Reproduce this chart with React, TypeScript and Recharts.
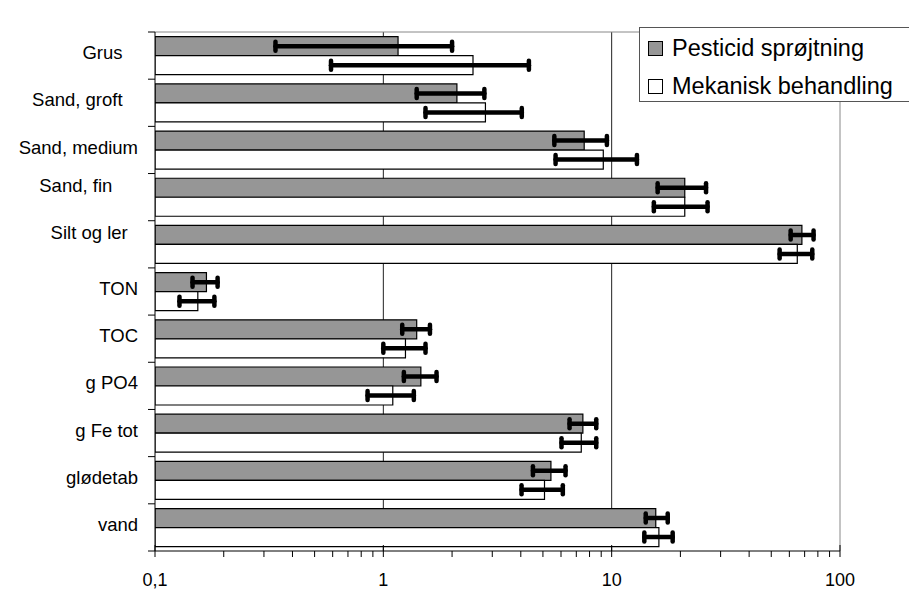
import React from "react";
import {
  BarChart,
  Bar,
  XAxis,
  YAxis,
  CartesianGrid,
  ErrorBar,
  Legend,
} from "recharts";

// categories (trailing spaces / line breaks are part of the original labels)
const categories = [
  "Grus   ",
  "Sand, groft   ",
  "Sand, medium",
  "Sand, fin     \n",
  "Silt og ler  \n",
  "TON",
  "TOC",
  "g PO4",
  "g Fe tot",
  "glødetab",
  "vand",
];

const seriesNames = ["Pesticid sprøjtning", "Mekanisk behandling"];

const pesticid = [1.16, 2.1, 7.58, 20.9, 68.1, 0.168, 1.4, 1.46, 7.48, 5.42, 15.6];
const pesticidLow = [0.337, 1.4, 5.61, 15.9, 60.8, 0.146, 1.21, 1.23, 6.54, 4.52, 14.1];
const pesticidHigh = [2.0, 2.77, 9.53, 25.9, 76.6, 0.188, 1.6, 1.71, 8.56, 6.28, 17.6];

const mekanisk = [2.47, 2.8, 9.19, 20.9, 65.0, 0.154, 1.25, 1.1, 7.36, 5.08, 16.1];
const mekaniskLow = [0.59, 1.53, 5.68, 15.3, 54.4, 0.128, 1.0, 0.853, 6.03, 4.03, 13.9];
const mekaniskHigh = [4.34, 4.04, 12.9, 26.3, 75.6, 0.182, 1.53, 1.36, 8.56, 6.11, 18.5];

const majorTicks = [0.1, 1, 10, 100];
const majorLabels = ["0,1", "1", "10", "100"];
const minorTicks = [
  0.2, 0.3, 0.4, 0.5, 0.6, 0.7, 0.8, 0.9,
  2, 3, 4, 5, 6, 7, 8, 9,
  20, 30, 40, 50, 60, 70, 80, 90,
];

const data = categories.map((name, i) => ({
  name,
  pest: pesticid[i],
  pestErr: [pesticid[i] - pesticidLow[i], pesticidHigh[i] - pesticid[i]],
  mek: mekanisk[i],
  mekErr: [mekanisk[i] - mekaniskLow[i], mekaniskHigh[i] - mekanisk[i]],
}));

const FONT = "'Liberation Sans', Arial, sans-serif";
const PLOT_TOP = 32;
const PLOT_HEIGHT = 519;
const BAND = PLOT_HEIGHT / categories.length;
const LINE_H = 17;

const XTick = ({ x, y, payload }: any) => {
  const i = majorTicks.indexOf(payload.value);
  if (i < 0) {
    return <line x1={x} x2={x} y1={y} y2={y + 6} stroke="#000" />;
  }
  return (
    <g>
      <line x1={x} x2={x} y1={y - 6} y2={y + 6} stroke="#000" />
      <text
        x={x}
        y={y + 35}
        textAnchor="middle"
        fontSize={18}
        fontFamily={FONT}
        fill="#000"
      >
        {majorLabels[i]}
      </text>
    </g>
  );
};

const YTick = ({ x, y, payload, index }: any) => {
  const lines = String(payload.value).split("\n");
  const start = -((lines.length - 1) * LINE_H) / 2;
  return (
    <g>
      <line x1={x - 7} x2={x} y1={y - BAND / 2} y2={y - BAND / 2} stroke="#000" />
      {index === categories.length - 1 && (
        <line x1={x - 7} x2={x} y1={y + BAND / 2} y2={y + BAND / 2} stroke="#000" />
      )}
      <text
        x={x - 17}
        y={y + 3.6}
        textAnchor="end"
        fontSize={18.5}
        fontFamily={FONT}
        fill="#000"
        xmlSpace="preserve"
        style={{ whiteSpace: "pre" }}
      >
        {lines.map((l, k) => (
          <tspan key={k} x={x - 17} dy={k === 0 ? start : LINE_H}>
            {l}
          </tspan>
        ))}
      </text>
    </g>
  );
};

const LegendBox = () => (
  <div
    style={{
      width: 272,
      height: 75,
      boxSizing: "border-box",
      border: "1px solid #555",
      background: "#fff",
      paddingTop: 1,
      paddingLeft: 8,
      fontFamily: FONT,
      fontSize: 23.5,
      color: "#000",
    }}
  >
    {seriesNames.map((n, i) => (
      <div
        key={n}
        style={{ height: 38, display: "flex", alignItems: "center", whiteSpace: "nowrap" }}
      >
        <span
          style={{
            display: "inline-block",
            width: 13,
            height: 13,
            border: "1px solid #000",
            background: i === 0 ? "#969696" : "#fff",
            marginRight: 9,
          }}
        />
        {n}
      </div>
    ))}
  </div>
);

export default function App() {
  return (
    <div style={{ position: "absolute", left: 0, top: 0, background: "#fff" }}>
      <BarChart
        width={909}
        height={589}
        data={data}
        layout="vertical"
        margin={{ top: PLOT_TOP, right: 69, bottom: 0, left: 0 }}
        barCategoryGap="10%"
        barGap={0}
      >
        <CartesianGrid
          horizontal={false}
          verticalValues={[1, 10]}
          stroke="#222"
        />
        <CartesianGrid
          verticalValues={[100]}
          horizontalCoordinatesGenerator={({ offset }: any) => [offset.top]}
          stroke="#888"
        />
        <XAxis
          type="number"
          scale="log"
          domain={[0.1, 100]}
          allowDataOverflow
          ticks={[...majorTicks, ...minorTicks]}
          interval={0}
          height={38}
          tickLine={false}
          tickSize={0}
          tickMargin={0}
          tick={(p: any) => <XTick {...p} />}
          axisLine={{ stroke: "#000" }}
        />
        <YAxis
          type="category"
          dataKey="name"
          width={155}
          interval={0}
          tickLine={false}
          tickSize={0}
          tickMargin={0}
          tick={(p: any) => <YTick {...p} />}
          axisLine={{ stroke: "#000" }}
        />
        <Bar
          dataKey="pest"
          name={seriesNames[0]}
          fill="#969696"
          stroke="#000"
          strokeWidth={1.2}
          isAnimationActive={false}
        >
          <ErrorBar
            dataKey="pestErr"
            direction="x"
            width={4.5}
            stroke="#000"
            strokeWidth={4.5}
            strokeLinecap="round"
          />
        </Bar>
        <Bar
          dataKey="mek"
          name={seriesNames[1]}
          fill="#fff"
          stroke="#000"
          strokeWidth={1.2}
          isAnimationActive={false}
        >
          <ErrorBar
            dataKey="mekErr"
            direction="x"
            width={4.5}
            stroke="#000"
            strokeWidth={4.5}
            strokeLinecap="round"
          />
        </Bar>
        <Legend
          layout="vertical"
          align="center"
          verticalAlign="middle"
          content={() => <LegendBox />}
          wrapperStyle={{ top: 27, left: 639, width: 272 }}
        />
      </BarChart>
    </div>
  );
}
